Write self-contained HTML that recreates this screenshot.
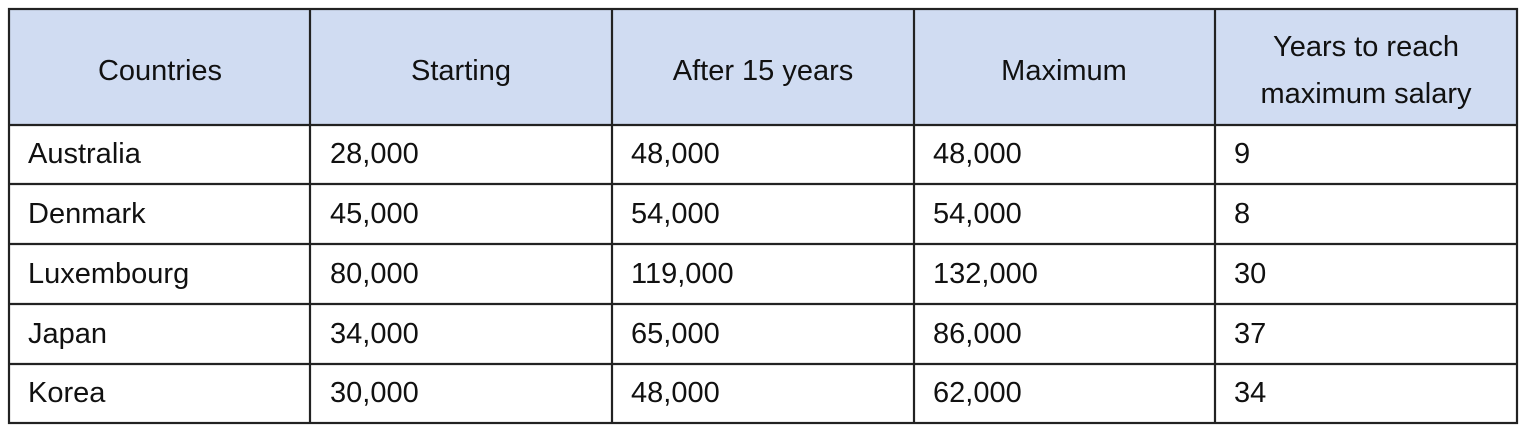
<!DOCTYPE html>
<html><head><style>
body{margin:0;background:#fff;width:1524px;height:430px;overflow:hidden}
svg text{font-family:"Liberation Sans",sans-serif;font-size:29px;fill:#111}
</style></head><body>
<svg width="1524" height="430" xmlns="http://www.w3.org/2000/svg">
<rect x="9" y="9" width="1508" height="116" fill="#d0dcf2"/>
<g stroke="#222" stroke-width="2.2" fill="none">
<rect x="9" y="9" width="1508" height="414"/>
<line x1="9" y1="125" x2="1517" y2="125"/>
<line x1="9" y1="184" x2="1517" y2="184"/>
<line x1="9" y1="244" x2="1517" y2="244"/>
<line x1="9" y1="304" x2="1517" y2="304"/>
<line x1="9" y1="364" x2="1517" y2="364"/>
<line x1="310" y1="9" x2="310" y2="423"/>
<line x1="612" y1="9" x2="612" y2="423"/>
<line x1="914" y1="9" x2="914" y2="423"/>
<line x1="1215" y1="9" x2="1215" y2="423"/>
</g>
<g text-anchor="middle">
<text x="160" y="80">Countries</text>
<text x="461" y="80">Starting</text>
<text x="763" y="80">After 15 years</text>
<text x="1064" y="80">Maximum</text>
<text x="1366" y="56">Years to reach</text>
<text x="1366" y="103">maximum salary</text>
</g>
<g>
<text x="28" y="163">Australia</text><text x="330" y="163">28,000</text><text x="631" y="163">48,000</text><text x="933" y="163">48,000</text><text x="1234" y="163">9</text>
<text x="28" y="223">Denmark</text><text x="330" y="223">45,000</text><text x="631" y="223">54,000</text><text x="933" y="223">54,000</text><text x="1234" y="223">8</text>
<text x="28" y="283">Luxembourg</text><text x="330" y="283">80,000</text><text x="631" y="283">119,000</text><text x="933" y="283">132,000</text><text x="1234" y="283">30</text>
<text x="28" y="343">Japan</text><text x="330" y="343">34,000</text><text x="631" y="343">65,000</text><text x="933" y="343">86,000</text><text x="1234" y="343">37</text>
<text x="28" y="402">Korea</text><text x="330" y="402">30,000</text><text x="631" y="402">48,000</text><text x="933" y="402">62,000</text><text x="1234" y="402">34</text>
</g>
</svg>
</body></html>
